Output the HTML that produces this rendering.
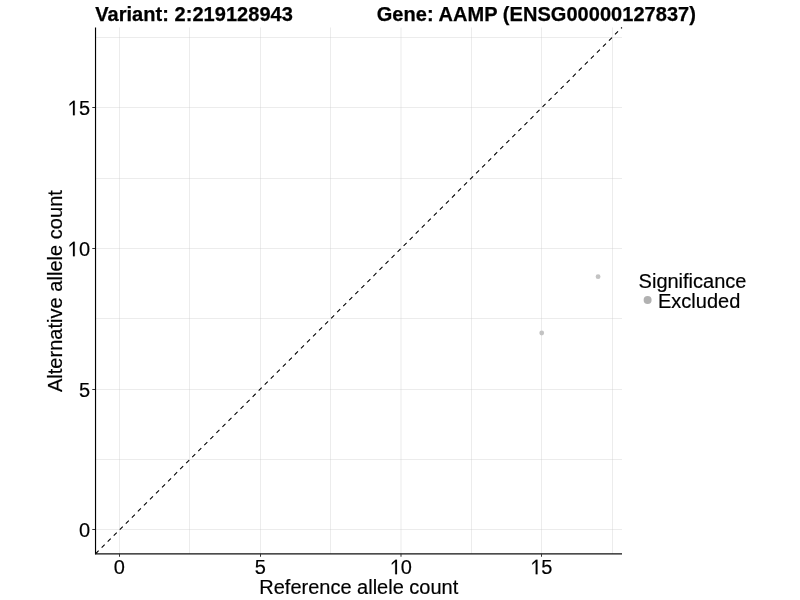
<!DOCTYPE html>
<html><head><meta charset="utf-8"><title>plot</title>
<style>html,body{margin:0;padding:0;background:#fff;overflow:hidden}svg{display:block;will-change:transform}text{font-family:"Liberation Sans",sans-serif;fill:#000;stroke:#000;stroke-width:0.18px}.b{font-weight:bold;stroke-width:0.25px}.g{fill:#d0d0d0;fill-opacity:0.4}.t{fill:#333}</style></head>
<body>
<svg width="800" height="600" viewBox="0 0 800 600">
<rect x="0" y="0" width="800" height="600" fill="#ffffff"/>
<g class="g">
<rect x="119" y="27.5" width="1" height="526.35"/>
<rect x="189" y="27.5" width="1" height="526.35"/>
<rect x="260" y="27.5" width="1" height="526.35"/>
<rect x="330" y="27.5" width="1" height="526.35"/>
<rect x="400.5" y="27.5" width="1" height="526.35"/>
<rect x="471" y="27.5" width="1" height="526.35"/>
<rect x="541" y="27.5" width="1" height="526.35"/>
<rect x="612" y="27.5" width="1" height="526.35"/>
<rect x="96.0" y="37" width="526.00" height="1"/>
<rect x="96.0" y="107" width="526.00" height="1"/>
<rect x="96.0" y="178" width="526.00" height="1"/>
<rect x="96.0" y="248" width="526.00" height="1"/>
<rect x="96.0" y="318" width="526.00" height="1"/>
<rect x="96.0" y="389" width="526.00" height="1"/>
<rect x="96.0" y="459" width="526.00" height="1"/>
<rect x="96.0" y="529" width="526.00" height="1"/>
</g>
<circle cx="541.73" cy="332.98" r="2.4" fill="#c3c3c3"/>
<circle cx="598.07" cy="276.67" r="2.4" fill="#c3c3c3"/>
<line x1="95.6" y1="553.75" x2="622.0" y2="27.5" stroke="#000" stroke-width="1.07" stroke-dasharray="4.27 4.27"/>
<rect x="94.95" y="27.5" width="1.15" height="526.75" fill="#000"/>
<line x1="95" y1="553.95" x2="622.0" y2="553.95" stroke="#111" stroke-width="1.3"/>
<g class="t">
<rect x="92.3" y="529" width="2.8" height="1"/>
<rect x="119" y="553.85" width="1" height="2.9"/>
<rect x="92.3" y="389" width="2.8" height="1"/>
<rect x="260" y="553.85" width="1" height="2.9"/>
<rect x="92.3" y="248" width="2.8" height="1"/>
<rect x="400.5" y="553.85" width="1" height="2.9"/>
<rect x="92.3" y="107" width="2.8" height="1"/>
<rect x="541" y="553.85" width="1" height="2.9"/>
</g>
<text x="90.2" y="537.20" font-size="20" text-anchor="end">0</text>
<text x="119.30" y="574.2" font-size="20" text-anchor="middle">0</text>
<text x="90.2" y="397.20" font-size="20" text-anchor="end">5</text>
<text x="260.30" y="574.2" font-size="20" text-anchor="middle">5</text>
<path d="M515 0V1280L165 975V1135L540 1480H696V0Z" transform="translate(67.95,256.20) scale(0.009766,-0.009766)" fill="#000" stroke="#000" stroke-width="18.4"/>
<text x="90.2" y="256.20" font-size="20" text-anchor="end">0</text>
<path d="M515 0V1280L165 975V1135L540 1480H696V0Z" transform="translate(390.18,574.20) scale(0.009766,-0.009766)" fill="#000" stroke="#000" stroke-width="18.4"/>
<text x="400.80" y="574.2" font-size="20">0</text>
<path d="M515 0V1280L165 975V1135L540 1480H696V0Z" transform="translate(67.95,115.20) scale(0.009766,-0.009766)" fill="#000" stroke="#000" stroke-width="18.4"/>
<text x="90.2" y="115.20" font-size="20" text-anchor="end">5</text>
<path d="M515 0V1280L165 975V1135L540 1480H696V0Z" transform="translate(530.68,574.20) scale(0.009766,-0.009766)" fill="#000" stroke="#000" stroke-width="18.4"/>
<text x="541.30" y="574.2" font-size="20">5</text>
<text class="b" x="95.2" y="21.2" font-size="20" textLength="197.7">Variant: 2:219128943</text>
<text class="b" x="376.7" y="21.2" font-size="20" textLength="319.2">Gene: AAMP (ENSG00000127837)</text>
<text x="358.8" y="593.6" font-size="20" text-anchor="middle">Reference allele count</text>
<text transform="translate(62.2,291.1) rotate(-90)" font-size="20" text-anchor="middle" textLength="202">Alternative allele count</text>
<text x="638.6" y="288.45" font-size="20">Significance</text>
<circle cx="647.6" cy="300" r="4" fill="#b1b1b1"/>
<text x="658" y="307.8" font-size="20">Excluded</text>
</svg>
</body></html>
